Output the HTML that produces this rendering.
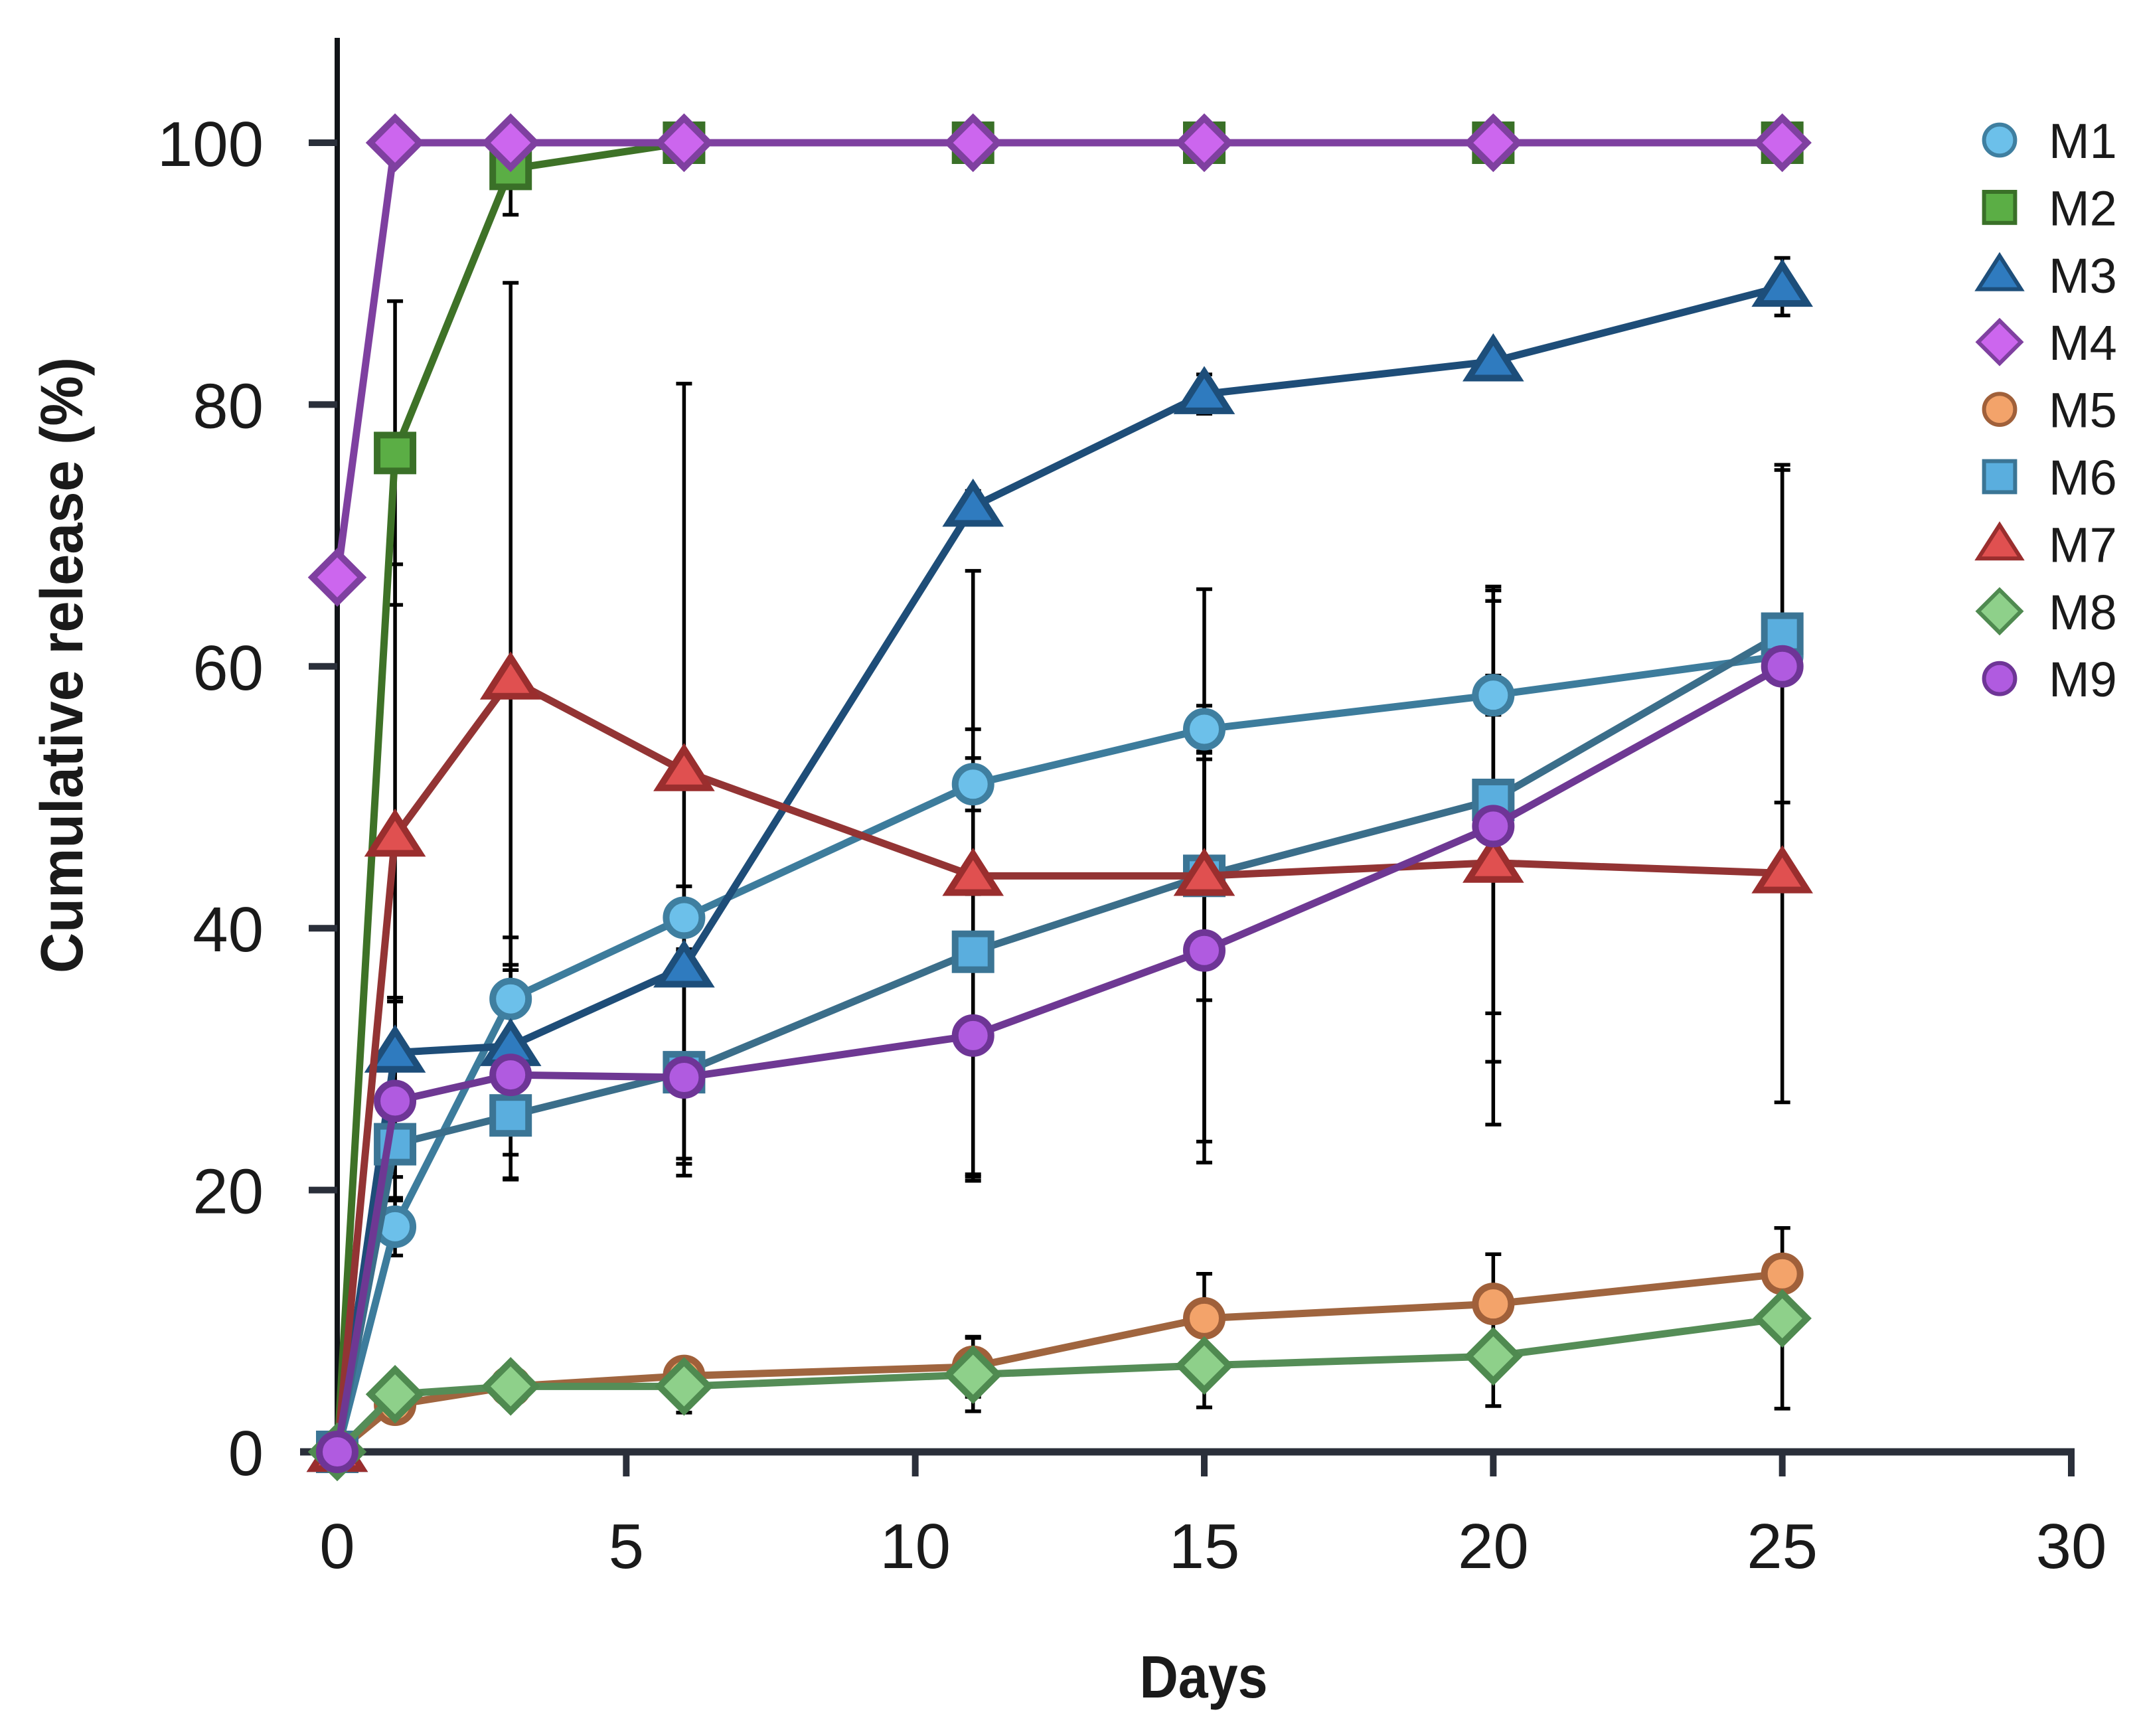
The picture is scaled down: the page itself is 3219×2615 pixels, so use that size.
<!DOCTYPE html>
<html><head><meta charset="utf-8"><style>
html,body{margin:0;padding:0;background:#fff;}
svg{display:block;}
text{font-family:"Liberation Sans",sans-serif;fill:#1a1a1a;}
</style></head><body>
<svg id="chart" width="3219" height="2615" viewBox="0 0 3219 2615" xmlns="http://www.w3.org/2000/svg">
<g id="grid-layer"></g>
</svg>
<script>
const days = [0,1,3,6,11,15,20,25];
const xTicks = [0,5,10,15,20,25,30];
const yTicks = [0,20,40,60,80,100];
const seriesNames = ["M1","M2","M3","M4","M5","M6","M7","M8","M9"];
const m1 = [0,17.2,34.6,40.8,51.0,55.2,57.8,60.8];
const m2 = [0,76.3,98.0,100,100,100,100,100];
const m3 = [0,30.5,31.0,37.0,72.2,80.8,83.3,89.0];
const m4 = [66.8,100,100,100,100,100,100,100];
const m5 = [0,3.6,5.0,5.8,6.5,10.2,11.3,13.6];
const m6 = [0,23.5,25.7,29.0,38.2,44.0,49.8,62.5];
const m7 = [0,47.0,59.0,52.0,44.0,44.0,45.0,44.2];
const m8 = [0,4.4,5.0,5.0,5.9,6.6,7.3,10.2];
const m9 = [0,26.8,28.8,28.6,31.8,38.3,47.8,60.0];
const e1 = [0,2.2,2.6,2.4,2.0,1.8,1.5,0];
const e2 = [0,11.6,3.5,0,0,0,0,0];
const e3 = [0,4.2,8.3,1.2,1.2,1.5,0.5,2.2];
const e4 = [0,0,0,0,0,0,0,0];
const e5 = [0,0.5,1.2,1.2,2.3,3.4,3.8,3.5];
const e6 = [0,2.5,4.8,7.0,17.0,9.5,16.3,12.9];
const e7 = [0,20.8,30.3,29.6,23.3,21.9,20.0,17.5];
const e8 = [0,0.4,1.5,2.0,2.8,3.2,3.8,6.9];
const e9 = [0,7.6,8.0,7.5,10.8,14.6,18.0,15.0];

const X0=508, X1=3120, Y0=2187, Y1=215;
function xs(v){return X0+(v-0)*(X1-X0)/30;}
function ys(v){return Y0-(v-0)*(Y0-Y1)/100;}
const NS="http://www.w3.org/2000/svg";
const svg=document.getElementById('chart');
function mk(tag,attrs,parent){const e=document.createElementNS(NS,tag);for(const k in attrs)e.setAttribute(k,attrs[k]);(parent||svg).appendChild(e);return e;}

const styles=[
 {fill:"#6cc0ea",stroke:"#3f7fa0",line:"#3d7c9c",shape:"circle"},
 {fill:"#5bae45",stroke:"#3a7028",line:"#3e7227",shape:"square"},
 {fill:"#2f7bbf",stroke:"#1d4e7a",line:"#1e4d78",shape:"triangle"},
 {fill:"#cc66ee",stroke:"#7f40a0",line:"#7e40a0",shape:"diamond"},
 {fill:"#f3a36a",stroke:"#a0603a",line:"#a0653f",shape:"circle"},
 {fill:"#5aaede",stroke:"#3b7595",line:"#3b6e8a",shape:"square"},
 {fill:"#e05050",stroke:"#9a2e2e",line:"#933434",shape:"triangle"},
 {fill:"#8ed08a",stroke:"#4f8a50",line:"#558d57",shape:"diamond"},
 {fill:"#b05be0",stroke:"#6e3596",line:"#6e3893",shape:"circle"}
];
const vals=[m1,m2,m3,m4,m5,m6,m7,m8,m9];
const errs=[e1,e2,e3,e4,e5,e6,e7,e8,e9];

function marker(shape,cx,cy,s,st,parent,sw){
  let e;
  if(shape==="circle") e=mk('circle',{cx:cx,cy:cy,r:s*0.45},parent);
  else if(shape==="square") e=mk('rect',{x:cx-s*0.45,y:cy-s*0.45,width:s*0.9,height:s*0.9},parent);
  else if(shape==="triangle") e=mk('polygon',{points:`${cx},${cy-s*0.55} ${cx+s*0.62},${cy+s*0.42} ${cx-s*0.62},${cy+s*0.42}`},parent);
  else e=mk('polygon',{points:`${cx},${cy-s*0.62} ${cx+s*0.62},${cy} ${cx},${cy+s*0.62} ${cx-s*0.62},${cy}`},parent);
  e.setAttribute('fill',st.fill);e.setAttribute('stroke',st.stroke);e.setAttribute('stroke-width',sw);e.setAttribute('stroke-linejoin','miter');
  return e;
}

const axes=mk('g',{});


const ya=mk('line',{x1:X0,y1:57,x2:X0,y2:Y0,stroke:"#111418","stroke-width":8},axes);


const xa=mk('line',{x1:452,y1:Y0,x2:X1+5,y2:Y0,stroke:"#2a2f3a","stroke-width":11},axes);


xTicks.forEach(t=>{
  const l=mk('line',{x1:xs(t),y1:Y0,x2:xs(t),y2:2224,stroke:"#2a2f3a","stroke-width":10},axes);
  
  
  const tx=mk('text',{x:xs(t),y:2362,"text-anchor":"middle","font-size":96},axes);
  tx.textContent=t;
  
  
});
yTicks.forEach(t=>{
  const l=mk('line',{x1:465,y1:ys(t),x2:X0,y2:ys(t),stroke:"#2a2f3a","stroke-width":10},axes);
  
  
  const tx=mk('text',{x:397,y:ys(t)+35,"text-anchor":"end","font-size":96},axes);
  tx.textContent=t;
  
  
});
const xt=mk('text',{x:1813,y:2557,"text-anchor":"middle","font-size":90,"font-weight":"bold",textLength:193,lengthAdjust:"spacingAndGlyphs"});
xt.textContent="Days";


const yt=mk('text',{x:0,y:0,"text-anchor":"middle","font-size":90,"font-weight":"bold",textLength:928,lengthAdjust:"spacingAndGlyphs",transform:"translate(124,1002) rotate(-90)"});
yt.textContent="Cumulative release (%)";



const eg=mk('g',{});


vals.forEach((v,si)=>{
  days.forEach((d,i)=>{
    const e=errs[si][i]; if(!e) return;
    const x=xs(d), top=ys(v[i]+e), bot=ys(Math.max(0,v[i]-e));
    const b=mk('path',{d:`M${x},${top}V${bot}M${x-12},${top}H${x+12}M${x-12},${bot}H${x+12}`,stroke:"#000","stroke-width":5.5,fill:"none"},eg);
    
    
  });
});

const order=[0,1,2,4,5,6,7,8,3];
order.forEach(si=>{
  const st=styles[si];
  const g=mk('g',{});
  
  
  const pts=days.map((d,i)=>xs(d)+','+ys(vals[si][i])).join(' ');
  const pl=mk('polyline',{points:pts,fill:"none",stroke:st.line,"stroke-width":11,"stroke-linejoin":"round"},g);
  
  
  days.forEach((d,i)=>{
    const m=marker(st.shape,xs(d),ys(vals[si][i]),60,st,g,10);
    
    
  });
});

const lg=mk('g',{});


seriesNames.forEach((n,i)=>{
  const y=211+i*101.4;
  const g=mk('g',{},lg);
  
  
  const m=marker(styles[i].shape,3012,y,52,styles[i],g,6);
  
  
  const t=mk('text',{x:3086,y:y+27,"font-size":74},g);
  t.textContent=n;
  
  
});
</script>
</body></html>
